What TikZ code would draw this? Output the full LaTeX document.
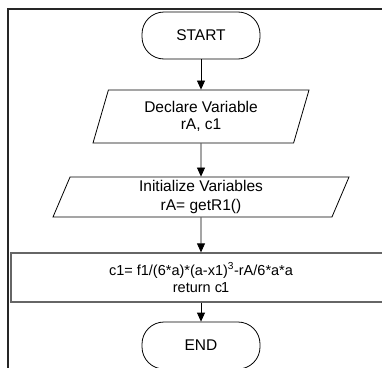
\documentclass[tikz,border=0pt]{standalone}
\usepackage{fontspec}
\setmainfont{Liberation Sans}
\usetikzlibrary{shapes.geometric,arrows.meta}

\begin{document}
\begin{tikzpicture}[x=1pt,y=1pt,
  every node/.style={font=\fontsize{15.5}{17}\selectfont, align=center},
  terminal/.style={draw, rectangle, rounded corners=22pt, minimum width=118pt, minimum height=47pt, line width=0.8pt},
  iobox/.style={draw, trapezium, trapezium left angle=63, trapezium right angle=117, trapezium stretches body, inner sep=0pt, line width=0.8pt},
  process/.style={draw=gray!80!black, rectangle, line width=1.3pt, minimum width=380pt, minimum height=49pt},
  flow/.style={-{Triangle[length=9pt,width=8pt]}, line width=0.8pt}]
\useasboundingbox (0,0) rectangle (382,-367);
\clip (0,0) rectangle (382,-367);
% outer frame
\draw[line width=1.5pt, draw=black!85] (8,-400) |- (400,-9);
% flow chart
\node[terminal] (start) at (201,-35.5) {START};
\node[iobox, minimum width=216pt, minimum height=53pt] (declare) at (201,-116.5) {Declare Variable\\rA, c1};
\node[iobox, minimum width=296pt, minimum height=40pt] (init) at (201,-197) {Initialize Variables\\[2pt]rA= getR1()};
\node[process, font=\fontsize{14.5}{17}\selectfont] (calc) at (201,-277.5) {c1= f1/(6*a)*(a-x1)\textsuperscript{3}-rA/6*a*a\\return c\kern-1pt1};
\node[terminal] (stop) at (201,-345.5) {END};
\draw[flow] (start) -- (declare);
\draw[flow] (declare) -- (init);
\draw[flow] (init) -- (calc);
\draw[flow] (calc) -- (stop);
\end{tikzpicture}
\end{document}
